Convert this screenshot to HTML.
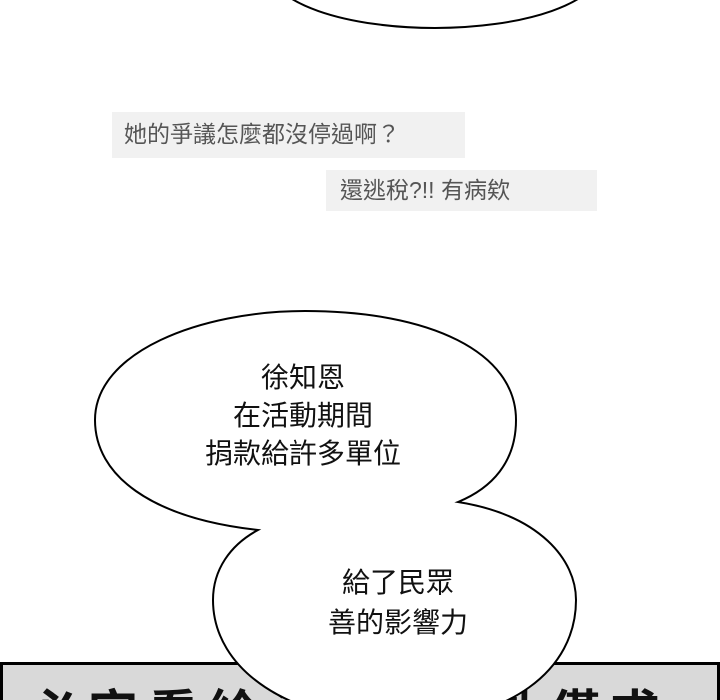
<!DOCTYPE html>
<html><head><meta charset="utf-8"><style>
html{margin:0;padding:0;width:720px;height:700px;overflow:hidden;}
body{margin:0;padding:0;background:#fff;width:720px;height:700px;position:relative;overflow:hidden;font-family:"Liberation Sans","Noto Sans CJK TC",sans-serif;}
.g{position:absolute;background:#f1f1f1;color:#555;font-size:23px;line-height:1;}
.t{position:absolute;text-align:center;color:#111;font-size:28px;line-height:38px;}
</style></head><body>
<svg width="720" height="700" viewBox="0 0 720 700" style="position:absolute;left:0;top:0;overflow:hidden">
<defs><clipPath id="c"><rect x="0" y="0" width="720" height="700"/></clipPath></defs>
<g clip-path="url(#c)">
<ellipse cx="435" cy="-30" rx="165" ry="58" fill="#fff" stroke="#000" stroke-width="2"/>
<path d="M1.5,700 L1.5,663.5 L718.5,663.5 L718.5,700" fill="#d9d9d9" stroke="#000" stroke-width="3"/>
<g font-family="Liberation Sans, Noto Sans CJK TC, sans-serif" font-weight="bold" font-size="50" fill="#111">
<text x="28" y="731">必</text>
<text x="88" y="731">定</text>
<text x="148" y="731">看</text>
<text x="208" y="731">給</text>
<text x="268" y="731">沒</text>
<text x="490" y="731">動</text>
<text x="550" y="731">僅</text>
<text x="610" y="731">求</text>
</g>
<path d="M258,530 C150,518 95,475 95,420 C95,352 200,311 305,311 C430,311 516,352 516,420 C516,462 492,488 458,502 C540,515 576,560 576,600 C576,670 510,722 400,722 C290,722 213,670 213,600 C213,570 230,545 258,530 Z" fill="#fff" stroke="#000" stroke-width="2"/>
</g>
</svg>
<div class="g" style="left:112px;top:112px;width:353px;height:46px;"><span style="position:absolute;left:12px;top:11px">她的爭議怎麼都沒停過啊？</span></div>
<div class="g" style="left:326px;top:170px;width:271px;height:41px;"><span style="position:absolute;left:14px;top:9px">還逃稅?!! 有病欸</span></div>
<div class="t" style="left:153px;top:359px;width:300px;">徐知恩<br>在活動期間<br>捐款給許多單位</div>
<div class="t" style="left:248px;top:563px;width:300px;line-height:40px;">給了民眾<br>善的影響力</div>
</body></html>
